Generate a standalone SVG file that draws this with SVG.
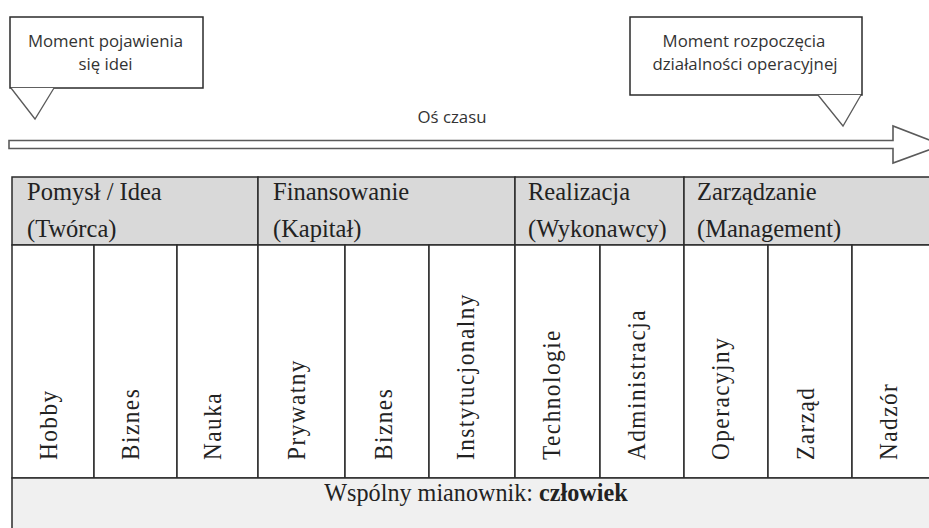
<svg xmlns="http://www.w3.org/2000/svg" width="929" height="528" viewBox="0 0 929 528">
<style>
.bg{fill:#ffffff}
.callout{fill:#ffffff;stroke:#2b2b2b;stroke-width:1.5}
.pointer{fill:#ffffff;stroke:#5a5a5a;stroke-width:1.3}
.sans{font-family:"Open Sans","Noto Sans",sans-serif;font-size:16.8px;fill:#333333;text-anchor:middle}
.axis{fill:#ffffff;stroke:#5a5a5a;stroke-width:1.6}
.head{fill:#d9d9d9;stroke:#2b2b2b;stroke-width:1.5}
.cell{fill:#ffffff;stroke:#2b2b2b;stroke-width:1.5}
.foot{fill:#f0f0f0;stroke:#2b2b2b;stroke-width:1.5}
.ht{font-family:"Liberation Serif","Times New Roman",serif;font-size:24.5px;fill:#222222}
.vt{font-family:"Liberation Serif","Times New Roman",serif;font-size:25px;letter-spacing:1.6px;fill:#222222}
.ft{font-family:"Liberation Serif","Times New Roman",serif;font-size:26px;fill:#222222;text-anchor:middle}
</style>
<rect class="bg" x="0" y="0" width="929" height="528"/>

<g id="callout-idea">
  <rect class="callout" x="10" y="17" width="193" height="71"/>
  <polyline class="pointer" points="11,88 35,119 54,88"/>
  <text class="sans" x="105.5" y="47">Moment pojawienia</text>
  <text class="sans" x="105.5" y="70">się idei</text>
</g>

<g id="callout-start">
  <rect class="callout" x="630" y="17" width="232" height="78"/>
  <polyline class="pointer" points="818,95 843,126 861,95"/>
  <text class="sans" x="744" y="47">Moment rozpoczęcia</text>
  <text class="sans" x="745" y="70">działalności operacyjnej</text>
</g>

<g id="connectors">
  <path class="axis" d="M9,140.5 H893 V126 L942,145 L893,163 V148.5 H9 Z"/>
</g>

<g id="axis-label">
  <text class="sans" x="452" y="123">Oś czasu</text>
</g>

<g id="header-pomysl">
  <rect class="head" x="12" y="177" width="246" height="68"/>
  <text class="ht" x="27" y="200">Pomysł / Idea</text>
  <text class="ht" x="27" y="237">(Twórca)</text>
</g>
<g id="header-finansowanie">
  <rect class="head" x="258" y="177" width="257" height="68"/>
  <text class="ht" x="273" y="200">Finansowanie</text>
  <text class="ht" x="273" y="237">(Kapitał)</text>
</g>
<g id="header-realizacja">
  <rect class="head" x="515" y="177" width="169" height="68"/>
  <text class="ht" x="528" y="200">Realizacja</text>
  <text class="ht" x="528" y="237">(Wykonawcy)</text>
</g>
<g id="header-zarzadzanie">
  <rect class="head" x="684" y="177" width="252" height="68"/>
  <text class="ht" x="697" y="200">Zarządzanie</text>
  <text class="ht" x="697" y="237">(Management)</text>
</g>

<g id="col-hobby"><rect class="cell" x="12" y="245" width="82" height="233"/><text class="vt" transform="translate(57,460) rotate(-90) scale(0.93,1)">Hobby</text></g>
<g id="col-biznes1"><rect class="cell" x="94" y="245" width="83" height="233"/><text class="vt" transform="translate(139,460) rotate(-90) scale(0.93,1)">Biznes</text></g>
<g id="col-nauka"><rect class="cell" x="177" y="245" width="81" height="233"/><text class="vt" transform="translate(221,460) rotate(-90) scale(0.93,1)">Nauka</text></g>
<g id="col-prywatny"><rect class="cell" x="258" y="245" width="87" height="233"/><text class="vt" transform="translate(305,460) rotate(-90) scale(0.93,1)">Prywatny</text></g>
<g id="col-biznes2"><rect class="cell" x="345" y="245" width="84" height="233"/><text class="vt" transform="translate(392,460) rotate(-90) scale(0.93,1)">Biznes</text></g>
<g id="col-instytucjonalny"><rect class="cell" x="429" y="245" width="86" height="233"/><text class="vt" transform="translate(474,460) rotate(-90) scale(0.93,1)">Instytucjonalny</text></g>
<g id="col-technologie"><rect class="cell" x="515" y="245" width="85" height="233"/><text class="vt" transform="translate(560,460) rotate(-90) scale(0.93,1)">Technologie</text></g>
<g id="col-administracja"><rect class="cell" x="600" y="245" width="84" height="233"/><text class="vt" transform="translate(645,460) rotate(-90) scale(0.93,1)">Administracja</text></g>
<g id="col-operacyjny"><rect class="cell" x="684" y="245" width="84" height="233"/><text class="vt" transform="translate(729,460) rotate(-90) scale(0.93,1)">Operacyjny</text></g>
<g id="col-zarzad"><rect class="cell" x="768" y="245" width="84" height="233"/><text class="vt" transform="translate(814,460) rotate(-90) scale(0.93,1)">Zarząd</text></g>
<g id="col-nadzor"><rect class="cell" x="852" y="245" width="84" height="233"/><text class="vt" transform="translate(897,460) rotate(-90) scale(0.93,1)">Nadzór</text></g>

<g id="footer">
  <rect class="foot" x="12" y="478" width="924" height="70"/>
  <text class="ft" transform="translate(476,501) scale(0.93,1)">Wspólny mianownik: <tspan font-weight="bold">człowiek</tspan></text>
</g>
</svg>
